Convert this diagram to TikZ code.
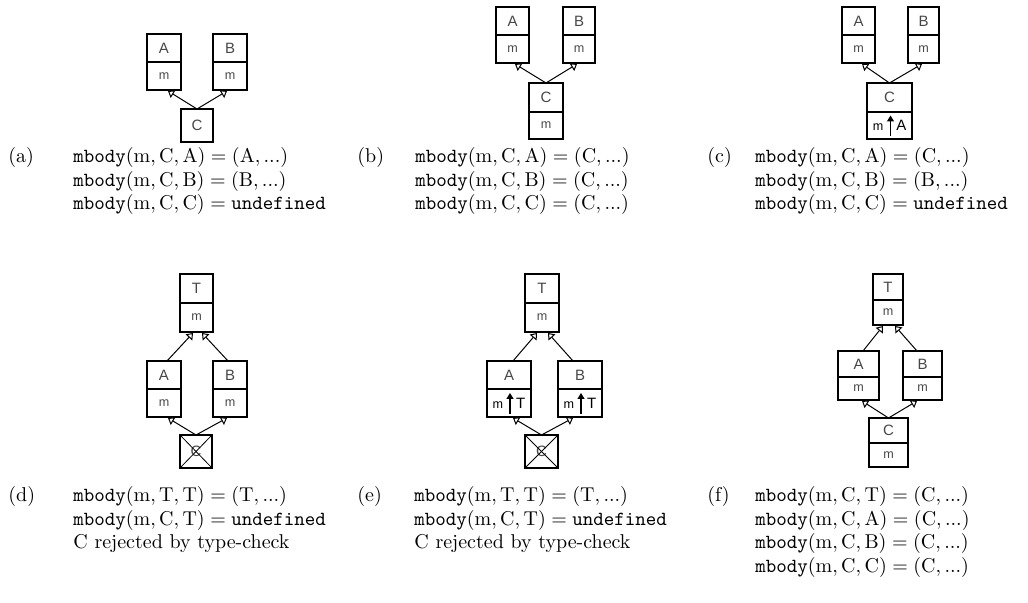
\documentclass[tikz,border=0pt]{standalone}
\usepackage{fontspec}
\newfontfamily\boxfont{Liberation Sans}
\usetikzlibrary{arrows.meta,calc}
\newcommand{\mb}[3]{\mathtt{mbody}(\mathrm{#1}, \mathrm{#2}, \mathrm{#3})}
\newcommand{\rs}[1]{(\mathrm{#1}, \textrm{...})}
\begin{document}
\begin{tikzpicture}[x=0.5pt,y=-0.5pt,
  cls/.style={draw, line width=0.85pt, inner sep=0pt, outer sep=0pt, anchor=north, text=black!72,
    font=\boxfont\fontsize{7.5}{8}\selectfont, minimum width=#1},
  mth/.style={cls=#1, font=\boxfont\fontsize{6.3}{7}\selectfont},
  inh/.style={line width=0.5pt, -{Triangle[open, length=3pt, width=4.5pt, fill=white]}},
  ovr/.style={line width=0.6pt, -{Triangle[length=3pt, width=3.5pt]}},
  crs/.style={line width=0.4pt},
  lbl/.style={anchor=base west, inner sep=0pt, font=\fontsize{10}{12}\selectfont},
  ]
\useasboundingbox (0,0) rectangle (1028,603);
\newcommand{\ovrtxt}[1]{{\color{black}\fontsize{6.3}{7}\selectfont m}\hspace{6.5pt}{\color{black}\fontsize{7.5}{8}\selectfont #1}}

% ---------- (a)
\node[cls=17pt, minimum height=14pt] (aA) at (164,34) {A};
\node[mth=17pt, minimum height=14pt] (aAm) at (aA.south) {m};
\node[cls=17pt, minimum height=14pt] (aB) at (230,34) {B};
\node[mth=17pt, minimum height=14pt] (aBm) at (aB.south) {m};
\node[cls=16pt, minimum height=16.5pt] (aC) at (197,109) {C};
\draw[inh] (aC.north) -- ($(aAm.south)+(4,1)$);
\draw[inh] (aC.north) -- ($(aBm.south)+(-3,1)$);
\node[lbl] (la) at (8,163) {(a)};
\node[lbl] (la1) at (73,163) {$\mb{m}{C}{A} = \rs{A}$};
\node[lbl] (la2) at (73,186.5) {$\mb{m}{C}{B} = \rs{B}$};
\node[lbl] (la3) at (73,210) {$\mb{m}{C}{C} = \mathtt{undefined}$};

% ---------- (b)
\node[cls=16.5pt, minimum height=14pt] (bA) at (512.5,7) {A};
\node[mth=16.5pt, minimum height=14pt] (bAm) at (bA.south) {m};
\node[cls=16pt, minimum height=14pt] (bB) at (579,7) {B};
\node[mth=16pt, minimum height=14pt] (bBm) at (bB.south) {m};
\node[cls=17pt, minimum height=14.5pt] (bC) at (546,83) {C};
\node[mth=17pt, minimum height=13.5pt] (bCm) at (bC.south) {m};
\draw[inh] (bC.north) -- ($(bAm.south)+(2.5,1)$);
\draw[inh] (bC.north) -- ($(bBm.south)+(-2,1)$);
\node[lbl] (lb) at (357,163) {(b)};
\node[lbl] (lb1) at (415,163) {$\mb{m}{C}{A} = \rs{C}$};
\node[lbl] (lb2) at (415,186.5) {$\mb{m}{C}{B} = \rs{C}$};
\node[lbl] (lb3) at (415,210) {$\mb{m}{C}{C} = \rs{C}$};

% ---------- (c)
\node[cls=16.5pt, minimum height=14pt] (cA) at (858.5,7) {A};
\node[mth=16.5pt, minimum height=14pt] (cAm) at (cA.south) {m};
\node[cls=15.5pt, minimum height=14pt] (cB) at (923.5,7) {B};
\node[mth=15.5pt, minimum height=14pt] (cBm) at (cB.south) {m};
\node[cls=22.5pt, minimum height=14.5pt] (cC) at (889.5,83) {C};
\node[mth=22.5pt, minimum height=13.5pt] (cCm) at (cC.south) {\ovrtxt{A}};
\draw[ovr] ($(cCm.center)+(1,11)$) -- ($(cCm.center)+(1,-10)$);
\draw[inh] (cC.north) -- ($(cAm.south)+(3.5,1)$);
\draw[inh] (cC.north) -- ($(cBm.south)+(-1.5,1)$);
\node[lbl] (lc) at (707,163) {(c)};
\node[lbl] (lc1) at (755,163) {$\mb{m}{C}{A} = \rs{C}$};
\node[lbl] (lc2) at (755,186.5) {$\mb{m}{C}{B} = \rs{B}$};
\node[lbl] (lc3) at (755,210) {$\mb{m}{C}{C} = \mathtt{undefined}$};

% ---------- (d)
\node[cls=16.5pt, minimum height=14.5pt] (dT) at (196.5,274) {T};
\node[mth=16.5pt, minimum height=14.5pt] (dTm) at (dT.south) {m};
\node[cls=17pt, minimum height=14pt] (dA) at (164,361) {A};
\node[mth=17pt, minimum height=14pt] (dAm) at (dA.south) {m};
\node[cls=17pt, minimum height=14pt] (dB) at (230,361) {B};
\node[mth=17pt, minimum height=14pt] (dBm) at (dB.south) {m};
\node[cls=16pt, minimum height=16.5pt] (dC) at (196,435) {C};
\draw[crs] (dC.north west) -- (dC.south east);
\draw[crs] (dC.north east) -- (dC.south west);
\draw[inh] ($(dA.north)+(3,0)$) -- ($(dTm.south)+(-3.5,1)$);
\draw[inh] ($(dB.north)+(-2,0)$) -- ($(dTm.south)+(5.5,1)$);
\draw[inh] (dC.north) -- ($(dAm.south)+(4,1)$);
\draw[inh] (dC.north) -- ($(dBm.south)+(-3,1)$);
\node[lbl] (ld) at (8,502) {(d)};
\node[lbl] (ld1) at (73,502) {$\mb{m}{T}{T} = \rs{T}$};
\node[lbl] (ld2) at (73,525.5) {$\mb{m}{C}{T} = \mathtt{undefined}$};
\node[lbl] (ld3) at (73,549) {C rejected by type-check};

% ---------- (e)
\node[cls=17pt, minimum height=14.5pt] (eT) at (542,274) {T};
\node[mth=17pt, minimum height=14.5pt] (eTm) at (eT.south) {m};
\node[cls=22pt, minimum height=14pt] (eA) at (509,361) {A};
\node[mth=22pt, minimum height=14pt] (eAm) at (eA.south) {\ovrtxt{T}};
\node[cls=22pt, minimum height=14pt] (eB) at (580,361) {B};
\node[mth=22pt, minimum height=14pt] (eBm) at (eB.south) {\ovrtxt{T}};
\draw[ovr] ($(eAm.center)+(1,11)$) -- ($(eAm.center)+(1,-10)$);
\draw[ovr] ($(eBm.center)+(1,11)$) -- ($(eBm.center)+(1,-10)$);
\node[cls=16.5pt, minimum height=16.5pt] (eC) at (541.5,435) {C};
\draw[crs] (eC.north west) -- (eC.south east);
\draw[crs] (eC.north east) -- (eC.south west);
\draw[inh] ($(eA.north)+(4,0)$) -- ($(eTm.south)+(-5,1)$);
\draw[inh] ($(eB.north)+(-7,0)$) -- ($(eTm.south)+(6,1)$);
\draw[inh] (eC.north) -- ($(eAm.south)+(4,1)$);
\draw[inh] (eC.north) -- ($(eBm.south)+(-7,1)$);
\node[lbl] (le) at (357,502) {(e)};
\node[lbl] (le1) at (414,502) {$\mb{m}{T}{T} = \rs{T}$};
\node[lbl] (le2) at (414,525.5) {$\mb{m}{C}{T} = \mathtt{undefined}$};
\node[lbl] (le3) at (414,549) {C rejected by type-check};

% ---------- (f)
\node[cls=15pt, minimum height=13pt] (fT) at (888,274) {T};
\node[mth=15pt, minimum height=12.5pt] (fTm) at (fT.south) {m};
\node[cls=20.5pt, minimum height=13pt] (fA) at (858.5,351) {A};
\node[mth=20.5pt, minimum height=11.5pt] (fAm) at (fA.south) {m};
\node[cls=19.5pt, minimum height=13pt] (fB) at (922.5,351) {B};
\node[mth=19.5pt, minimum height=11.5pt] (fBm) at (fB.south) {m};
\node[cls=19.5pt, minimum height=12.5pt] (fC) at (888.5,418) {C};
\node[mth=19.5pt, minimum height=12pt] (fCm) at (fC.south) {m};
\draw[inh] ($(fA.north)+(4.5,0)$) -- ($(fTm.south)+(-5,1)$);
\draw[inh] ($(fB.north)+(-5.5,0)$) -- ($(fTm.south)+(7,1)$);
\draw[inh] (fC.north) -- ($(fAm.south)+(3.5,1)$);
\draw[inh] (fC.north) -- ($(fBm.south)+(-5.5,1)$);
\node[lbl] (lf) at (707,502) {(f)};
\node[lbl] (lf1) at (755,502) {$\mb{m}{C}{T} = \rs{C}$};
\node[lbl] (lf2) at (755,525.5) {$\mb{m}{C}{A} = \rs{C}$};
\node[lbl] (lf3) at (755,549) {$\mb{m}{C}{B} = \rs{C}$};
\node[lbl] (lf4) at (755,572.5) {$\mb{m}{C}{C} = \rs{C}$};
\end{tikzpicture}
\end{document}
